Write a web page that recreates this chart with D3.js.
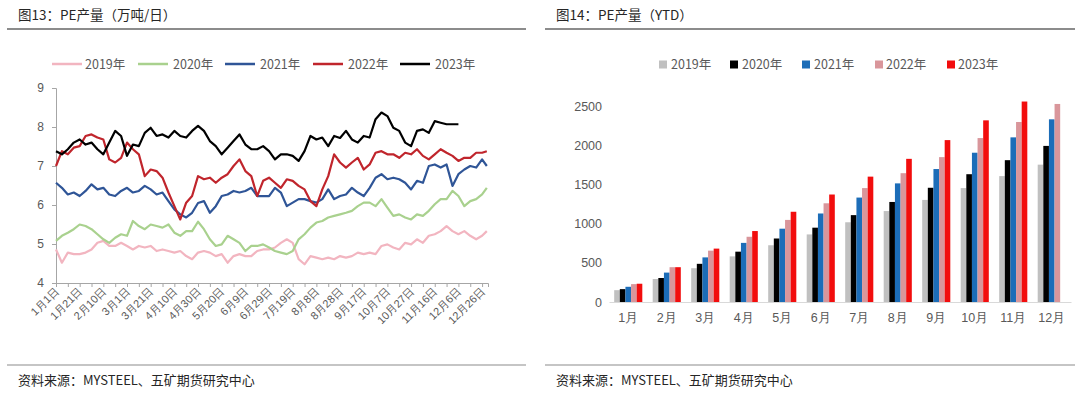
<!DOCTYPE html>
<html><head><meta charset="utf-8">
<script src="https://cdn.jsdelivr.net/npm/d3@7"></script>
<style>
body{margin:0;background:#fff;}
svg{display:block;font-family:"Noto Sans CJK SC","Noto Sans",sans-serif;}
</style>
</head><body>
<svg id="c" width="1080" height="397"></svg>
<script>
// ---------- DATA ----------
const yearNames = ["2019年","2020年","2021年","2022年","2023年"];
// day-of-year index of each sample (every 5 days)
const sampleDays = [0,5,10,15,20,25,30,35,40,45,50,55,60,65,70,75,80,85,90,95,100,105,110,115,120,
  125,130,135,140,145,150,155,160,165,170,175,180,185,190,195,200,205,210,215,220,225,230,235,240,
  245,250,255,260,265,270,275,280,285,290,295,300,305,310,315,320,325,330,335,340,345,350,355,360,364];
const pe2019 = [4.86,4.52,4.78,4.74,4.74,4.78,4.86,5.03,5.08,4.95,4.95,5.03,4.95,4.86,4.95,4.91,4.95,4.82,4.86,4.82,4.78,4.82,4.69,4.61,4.78,
  4.82,4.78,4.69,4.74,4.52,4.69,4.74,4.69,4.69,4.82,4.86,4.86,4.91,5.03,5.12,5.03,4.61,4.48,4.69,4.65,4.61,4.65,4.61,4.69,
  4.65,4.69,4.78,4.74,4.78,4.74,4.95,4.99,4.91,4.86,5.03,4.99,5.12,5.03,5.21,5.25,5.33,5.46,5.33,5.25,5.33,5.21,5.12,5.21,5.33];
const pe2020 = [5.08,5.21,5.29,5.38,5.50,5.46,5.38,5.25,5.12,5.03,5.16,5.25,5.21,5.59,5.46,5.38,5.50,5.46,5.42,5.50,5.29,5.21,5.33,5.33,5.57,
  5.38,5.12,4.95,4.99,5.21,5.12,5.03,4.82,4.95,4.95,4.99,4.91,4.82,4.78,4.74,4.82,5.12,5.25,5.42,5.55,5.59,5.68,5.72,5.76,
  5.80,5.85,5.97,6.06,6.06,5.97,6.15,5.93,5.72,5.76,5.68,5.63,5.76,5.72,5.85,6.02,6.15,6.15,6.36,6.23,5.97,6.10,6.15,6.27,6.44];
const pe2021 = [6.57,6.44,6.27,6.32,6.23,6.36,6.53,6.40,6.44,6.27,6.23,6.36,6.44,6.32,6.36,6.49,6.40,6.27,6.32,6.10,5.89,5.76,5.68,5.80,6.05,
  6.10,5.80,5.97,6.23,6.27,6.36,6.32,6.36,6.44,6.23,6.23,6.23,6.44,6.32,5.97,6.06,6.15,6.15,6.10,6.06,6.15,6.40,6.15,6.23,
  6.27,6.44,6.32,6.23,6.44,6.70,6.79,6.66,6.70,6.66,6.57,6.40,6.62,6.57,7.00,7.04,6.96,7.04,6.49,6.79,6.91,7.00,6.96,7.17,7.00];
const pe2022 = [7.00,7.38,7.30,7.47,7.51,7.77,7.81,7.73,7.68,7.17,7.09,7.21,7.60,7.43,7.30,6.74,6.91,6.87,6.70,6.32,5.97,5.63,6.06,6.23,6.74,
  6.66,6.70,6.57,6.70,6.79,7.00,7.17,6.87,6.74,6.23,6.62,6.70,6.57,6.44,6.66,6.62,6.49,6.40,6.10,5.97,6.40,6.74,7.30,7.09,
  6.96,7.09,7.21,6.91,7.04,7.34,7.38,7.30,7.30,7.21,7.34,7.30,7.43,7.26,7.17,7.30,7.43,7.34,7.26,7.13,7.21,7.21,7.34,7.34,7.38];
const pe2023 = [7.38,7.30,7.43,7.60,7.68,7.55,7.60,7.43,7.30,7.60,7.90,7.77,7.26,7.55,7.51,7.85,7.98,7.77,7.81,7.73,7.90,7.77,7.73,7.90,8.03,
  7.90,7.64,7.51,7.30,7.47,7.64,7.81,7.55,7.43,7.43,7.51,7.38,7.17,7.30,7.30,7.26,7.13,7.38,7.77,7.68,7.73,7.51,7.77,7.72,
  7.90,7.68,7.60,7.77,7.73,8.20,8.37,8.28,7.98,7.90,7.60,7.51,7.90,7.94,7.85,8.15,8.11,8.07,8.07,8.07];
const leftYTicks = [4,5,6,7,8,9];

const months = ["1月","2月","3月","4月","5月","6月","7月","8月","9月","10月","11月","12月"];
const ytd2019 = [151,293,431,582,724,862,1017,1160,1302,1453,1606,1752];
const ytd2020 = [164,306,487,642,810,948,1108,1276,1457,1630,1809,1991];
const ytd2021 = [194,375,569,754,935,1129,1332,1513,1696,1904,2100,2330];
const ytd2022 = [228,444,655,832,1047,1259,1453,1643,1848,2091,2296,2526];
const ytd2023 = [233,444,681,905,1151,1371,1599,1826,2065,2317,2557];
const rightYTicks = [0,500,1000,1500,2000,2500];

// ---------- STYLE ----------
const lineColors = ["#f2b5c0","#a9d18e","#2f5597","#c0252c","#000000"];
const barColors = ["#c0c0c0","#000000","#1c6db8","#d9969b","#f20d0d"];
const txt = "#595959";

const svg = d3.select("#c");

// panel frames
function frame(x0, x1, title, tx) {
  svg.append("text").attr("x", tx).attr("y", 20).attr("font-size", 13.5)
    .attr("fill", "#262626").text(title);
  svg.append("line").attr("x1", x0).attr("x2", x1).attr("y1", 29).attr("y2", 29)
    .attr("stroke", "#8c8c8c").attr("stroke-width", 2);
  svg.append("line").attr("x1", x0).attr("x2", x1).attr("y1", 365).attr("y2", 365)
    .attr("stroke", "#8c8c8c").attr("stroke-width", 1.2);
  svg.append("text").attr("x", tx).attr("y", 385).attr("font-size", 13)
    .attr("fill", "#262626").text("资料来源：MYSTEEL、五矿期货研究中心");
}
frame(7, 526, "图13：PE产量（万吨/日）", 18);
frame(545, 1075, "图14：PE产量（YTD）", 556);

// ---------- LEFT LINE CHART ----------
const xL = d3.scaleLinear().domain([0, 365]).range([56, 488]);
const yL = d3.scaleLinear().domain([4, 9]).range([283, 88]);
const series = [pe2019, pe2020, pe2021, pe2022, pe2023];

const gL = svg.append("g");
// y axis
const yAx = gL.append("g").attr("transform", "translate(56,0)")
  .call(d3.axisLeft(yL).tickValues(leftYTicks).tickSize(4).tickPadding(8).tickFormat(d3.format("d")));
yAx.select(".domain").attr("stroke", "#a6a6a6");
yAx.selectAll(".tick line").attr("stroke", "#a6a6a6");
yAx.selectAll("text").attr("fill", txt).attr("font-size", 12).attr("font-family", "inherit");

// x axis: ticks every 10 days, labels every 20 days (date axis of a leap-year calendar)
const base = new Date(2020, 0, 1);
const fmt = d => { const dt = d3.timeDay.offset(base, d); return (dt.getMonth()+1) + "月" + dt.getDate() + "日"; };
const xAx = gL.append("g").attr("transform", "translate(0,283)")
  .call(d3.axisBottom(xL).tickValues(d3.range(0, 366, 10)).tickSize(4).tickFormat(d => d % 20 === 0 ? fmt(d) : ""));
xAx.select(".domain").attr("stroke", "#a6a6a6");
xAx.selectAll(".tick line").attr("stroke", "#a6a6a6");
xAx.selectAll("text").attr("fill", txt).attr("font-size", 11).attr("font-family", "inherit")
  .attr("text-anchor", "end").attr("dy", null).attr("y", 0)
  .attr("transform", "translate(3,9) rotate(-45)");

const line = d3.line().x((d, i) => xL(sampleDays[i])).y(d => yL(d)).curve(d3.curveLinear);
series.forEach((s, k) => {
  gL.append("path").datum(s).attr("d", line).attr("fill", "none")
    .attr("stroke", lineColors[k]).attr("stroke-width", 2.2).attr("stroke-linejoin", "round");
});

// left legend
const legL = [{sx:52, tx:85},{sx:138, tx:173},{sx:225, tx:260},{sx:313, tx:348},{sx:400, tx:435}];
legL.forEach((p, k) => {
  svg.append("line").attr("x1", p.sx).attr("x2", p.sx + 30).attr("y1", 64).attr("y2", 64)
    .attr("stroke", lineColors[k]).attr("stroke-width", 2.5);
  svg.append("text").attr("x", p.tx).attr("y", 68.5).attr("font-size", 12.5).attr("fill", txt).text(yearNames[k]);
});

// ---------- RIGHT BAR CHART ----------
const ytd = [ytd2019, ytd2020, ytd2021, ytd2022, ytd2023];
const xR = d3.scaleBand().domain(months).range([609, 1071]).paddingInner(0.27).paddingOuter(0.135);
const xS = d3.scaleBand().domain(d3.range(5)).range([0, xR.bandwidth()]);
const yR = d3.scaleLinear().domain([0, 2500]).range([302, 106]);

const gR = svg.append("g");
months.forEach((m, i) => {
  ytd.forEach((s, k) => {
    if (s[i] === undefined) return;
    gR.append("rect").attr("x", xR(m) + xS(k)).attr("width", xS.bandwidth())
      .attr("y", yR(s[i])).attr("height", yR(0) - yR(s[i])).attr("fill", barColors[k]);
  });
});
const yAxR = gR.append("g").attr("transform", "translate(609,0)")
  .call(d3.axisLeft(yR).tickValues(rightYTicks).tickSize(0).tickPadding(7).tickFormat(d3.format("d")));
yAxR.select(".domain").remove();
yAxR.selectAll("text").attr("fill", txt).attr("font-size", 12.5).attr("font-family", "inherit");
const xAxR = gR.append("g").attr("transform", "translate(0,302)")
  .call(d3.axisBottom(xR).tickSize(0).tickPadding(11).tickSizeOuter(0));
xAxR.select(".domain").attr("stroke", "#d9d9d9");
xAxR.selectAll("text").attr("fill", txt).attr("font-size", 12.5).attr("font-family", "inherit");

// right legend
const legR = [{sx:659, tx:671},{sx:730, tx:742},{sx:802, tx:814},{sx:875, tx:886},{sx:947, tx:958}];
legR.forEach((p, k) => {
  svg.append("rect").attr("x", p.sx).attr("y", 60.5).attr("width", 8).attr("height", 8).attr("fill", barColors[k]);
  svg.append("text").attr("x", p.tx).attr("y", 69).attr("font-size", 12.5).attr("fill", txt).text(yearNames[k]);
});
</script>
</body></html>
